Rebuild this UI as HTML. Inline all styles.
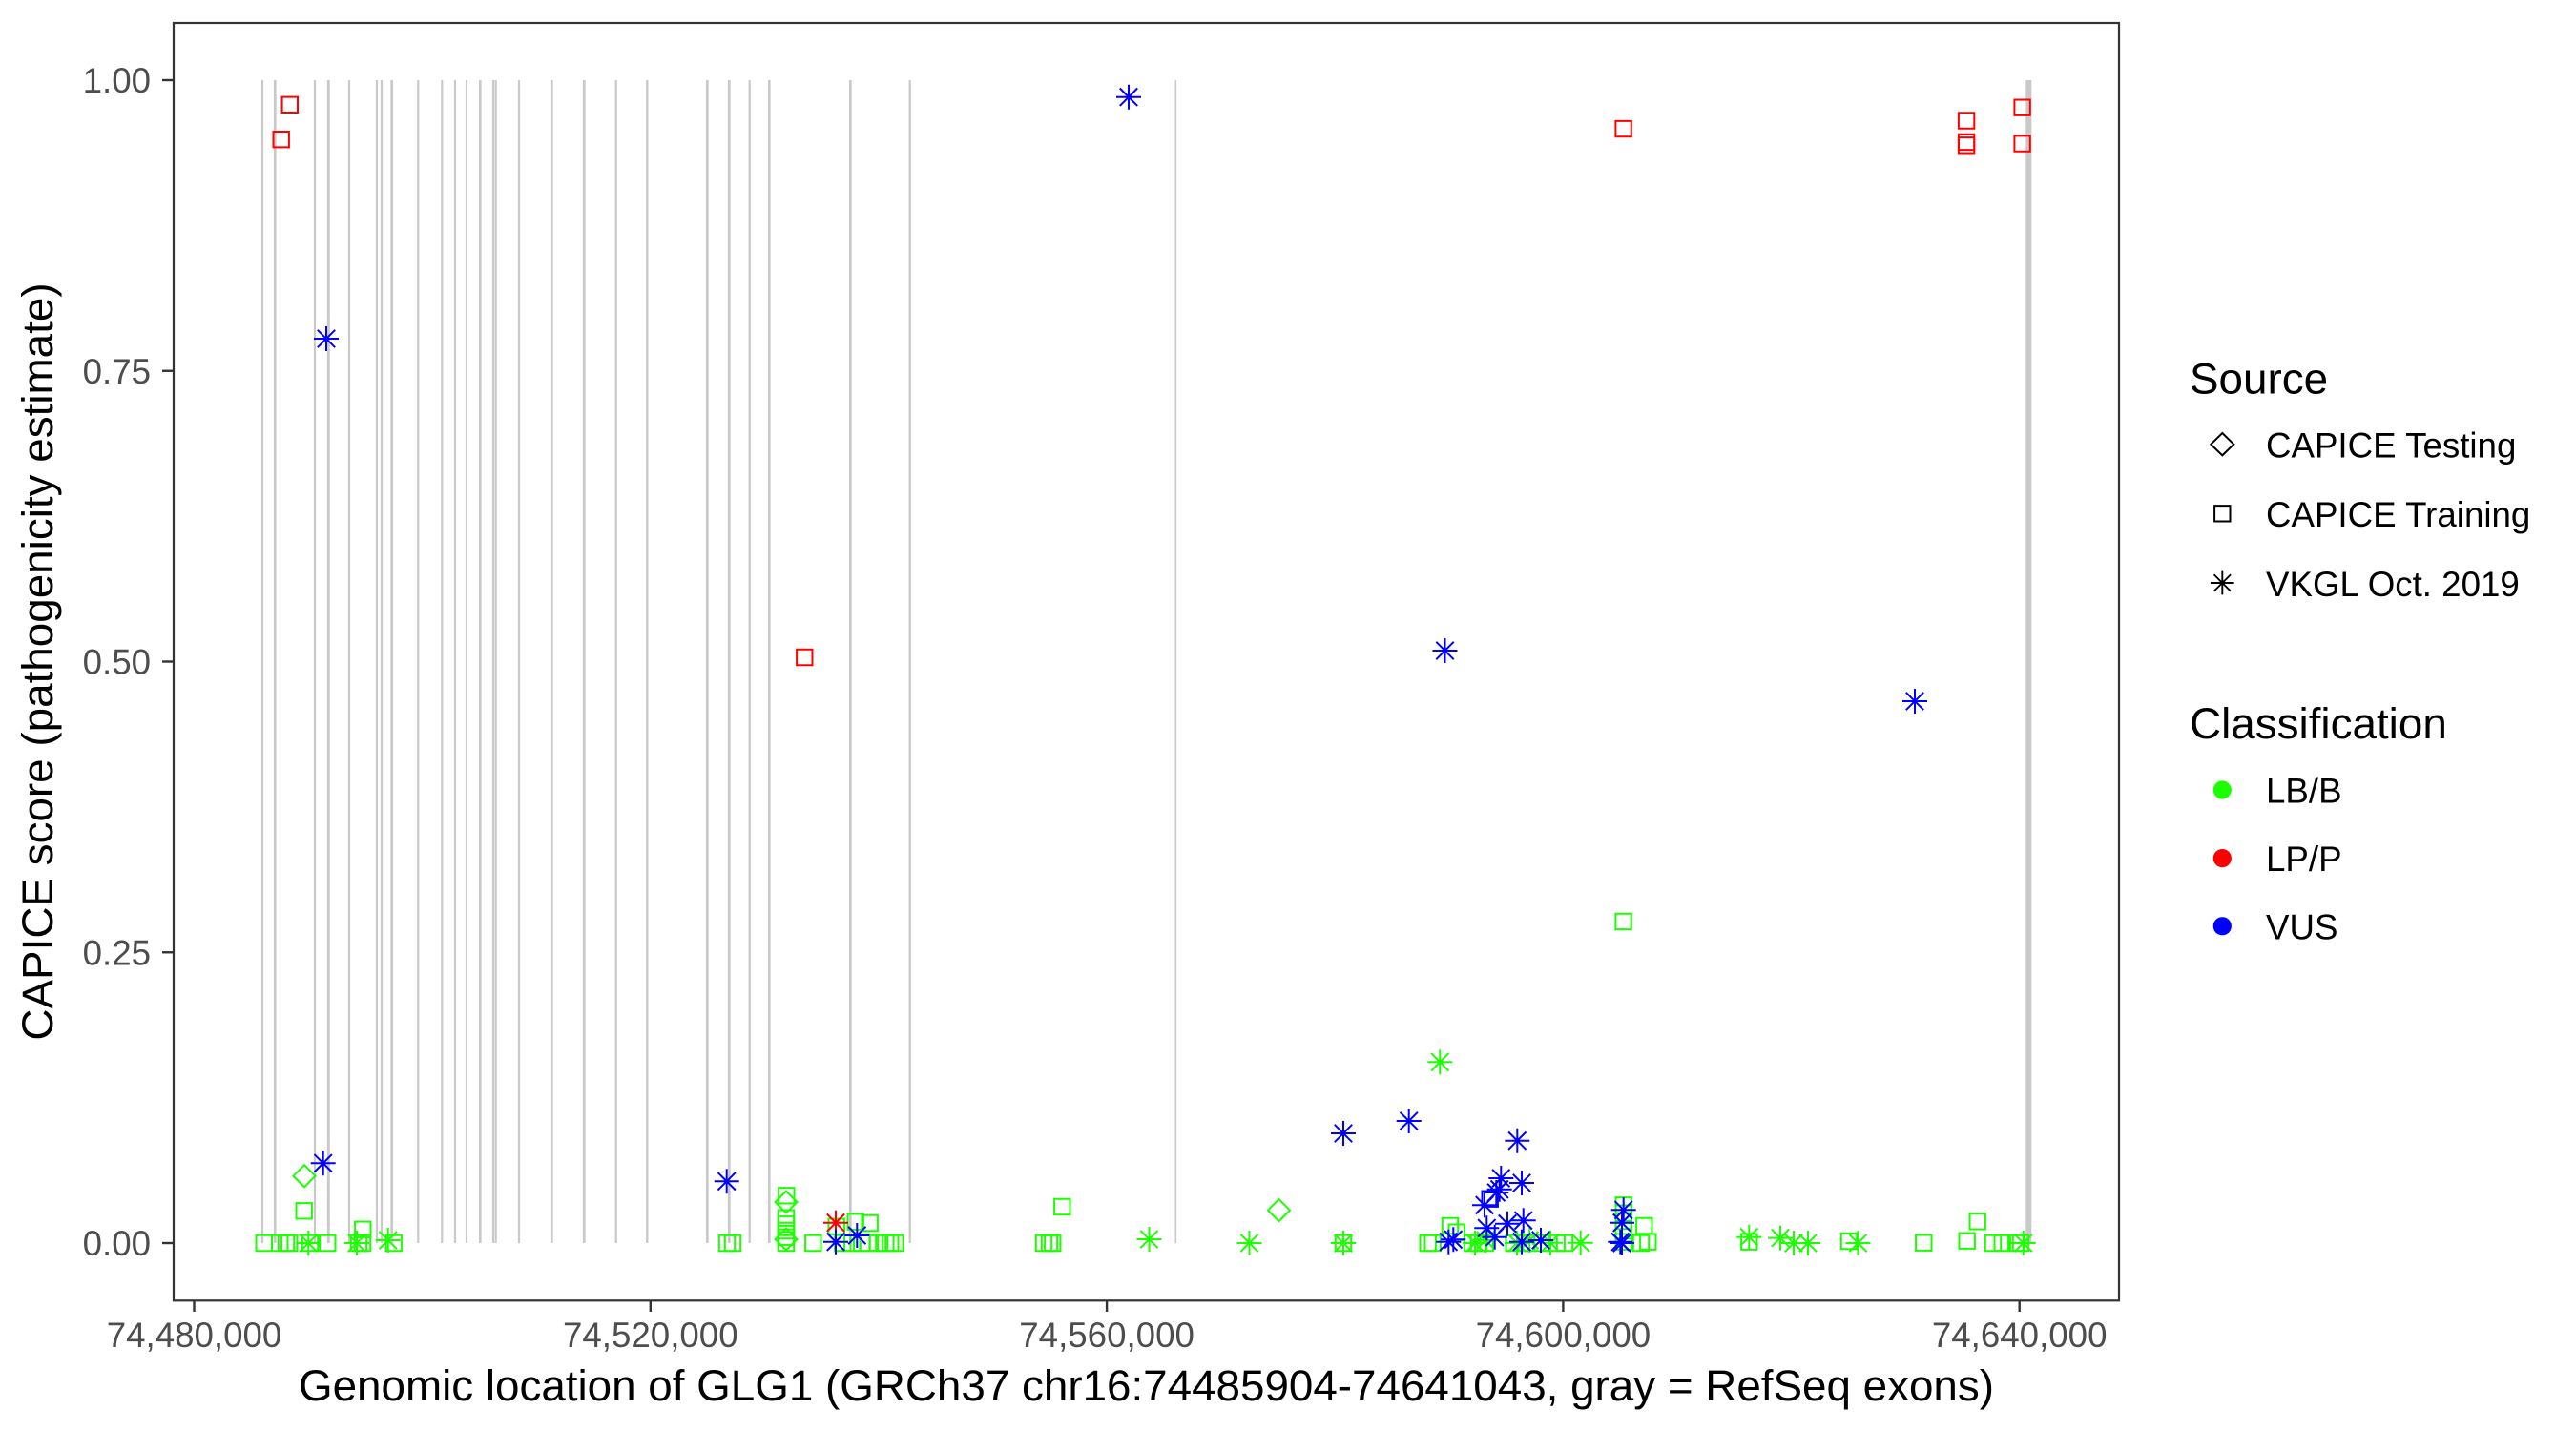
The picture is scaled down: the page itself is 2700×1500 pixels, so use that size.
<!DOCTYPE html>
<html><head><meta charset="utf-8"><style>
html,body{margin:0;padding:0;background:#fff;}
svg{display:block;font-family:"Liberation Sans",Arial,sans-serif;}
</style></head><body>
<svg width="2700" height="1500" viewBox="0 0 2700 1500" xmlns="http://www.w3.org/2000/svg">
<defs>
<path id="sq" d="M-8.2-8.2h16.4v16.4h-16.4z" fill="none"/>
<path id="st" d="M-13 0H13M0-13V13M-9.2-9.2L9.2 9.2M-9.2 9.2L9.2-9.2" fill="none"/>
<path id="dm" d="M0-11.5L11.5 0L0 11.5L-11.5 0Z" fill="none"/>
</defs>
<rect width="2700" height="1500" fill="#fff"/>
<!-- exon lines -->
<g stroke="#c9c9c9" stroke-width="2.2">
<line x1="275" y1="84" x2="275" y2="1303"/>
<line x1="288.3" y1="84" x2="288.3" y2="1303" stroke-width="2.7"/>
<line x1="330" y1="84" x2="330" y2="1303"/>
<line x1="344.3" y1="84" x2="344.3" y2="1303" stroke-width="2.9"/>
<line x1="366" y1="84" x2="366" y2="1303"/>
<line x1="395" y1="84" x2="395" y2="1303"/>
<line x1="400" y1="84" x2="400" y2="1303"/>
<line x1="410.7" y1="84" x2="410.7" y2="1303" stroke-width="2.7"/>
<line x1="438.3" y1="84" x2="438.3" y2="1303"/>
<line x1="463.3" y1="84" x2="463.3" y2="1303"/>
<line x1="477" y1="84" x2="477" y2="1303"/>
<line x1="489" y1="84" x2="489" y2="1303"/>
<line x1="503.3" y1="84" x2="503.3" y2="1303" stroke-width="2.7"/>
<line x1="517" y1="84" x2="517" y2="1303"/>
<line x1="519.7" y1="84" x2="519.7" y2="1303"/>
<line x1="544" y1="84" x2="544" y2="1303"/>
<line x1="578.3" y1="84" x2="578.3" y2="1303" stroke-width="2.7"/>
<line x1="612.3" y1="84" x2="612.3" y2="1303" stroke-width="2.7"/>
<line x1="645.7" y1="84" x2="645.7" y2="1303"/>
<line x1="678.3" y1="84" x2="678.3" y2="1303" stroke-width="2.4"/>
<line x1="741.3" y1="84" x2="741.3" y2="1303" stroke-width="2.7"/>
<line x1="764.3" y1="84" x2="764.3" y2="1303" stroke-width="2.7"/>
<line x1="785.7" y1="84" x2="785.7" y2="1303"/>
<line x1="806.3" y1="84" x2="806.3" y2="1303" stroke-width="2.7"/>
<line x1="891.3" y1="84" x2="891.3" y2="1303" stroke-width="2.7"/>
<line x1="953.7" y1="84" x2="953.7" y2="1303"/>
<line x1="1232.3" y1="84" x2="1232.3" y2="1303" stroke-width="1.6"/>
</g>
<rect x="2123.3" y="84" width="6" height="1219" fill="#c9c9c9"/>

<!-- green points -->
<g stroke="#1cff00" stroke-width="2">
<use href="#sq" x="318.7" y="1269.3"/>
<use href="#sq" x="380.3" y="1288.7"/>
<use href="#sq" x="276.7" y="1303"/>
<use href="#sq" x="293.3" y="1303"/>
<use href="#sq" x="300" y="1303"/>
<use href="#sq" x="303.3" y="1303"/>
<use href="#sq" x="325" y="1303"/>
<use href="#sq" x="343.3" y="1303"/>
<use href="#sq" x="376" y="1303"/>
<use href="#sq" x="380" y="1303"/>
<use href="#sq" x="412.7" y="1303"/>
<use href="#st" x="323.3" y="1303"/>
<use href="#st" x="374" y="1303"/>
<use href="#st" x="406.7" y="1300"/>
<use href="#dm" x="319" y="1232.7"/>

<use href="#sq" x="762" y="1303"/>
<use href="#sq" x="768" y="1303"/>
<use href="#sq" x="824.3" y="1253.3"/>
<use href="#dm" x="824" y="1260"/>
<use href="#sq" x="824" y="1276.7"/>
<use href="#sq" x="824" y="1283.3"/>
<use href="#sq" x="824" y="1290"/>
<use href="#sq" x="824" y="1296.7"/>
<use href="#sq" x="824" y="1303"/>
<use href="#dm" x="824" y="1299"/>
<use href="#sq" x="852.3" y="1303"/>
<use href="#sq" x="876.7" y="1285.7"/>
<use href="#sq" x="896.7" y="1280.7"/>
<use href="#sq" x="911.7" y="1282"/>
<use href="#sq" x="883.3" y="1303"/>
<use href="#sq" x="893.3" y="1303"/>
<use href="#sq" x="903.3" y="1303"/>
<use href="#sq" x="910" y="1303"/>
<use href="#sq" x="920" y="1303"/>
<use href="#sq" x="928.3" y="1303"/>
<use href="#sq" x="933.3" y="1303"/>
<use href="#sq" x="938.3" y="1303"/>
<use href="#sq" x="1094" y="1303"/>
<use href="#sq" x="1100" y="1303"/>
<use href="#sq" x="1103.3" y="1303"/>
<use href="#sq" x="1113.3" y="1265"/>
<use href="#st" x="1204.5" y="1299"/>
<use href="#st" x="1309.5" y="1303"/>
<use href="#dm" x="1340.5" y="1268.6"/>
<use href="#sq" x="1408" y="1303"/>
<use href="#st" x="1408" y="1303"/>

<use href="#st" x="1509.3" y="1113.3"/>
<use href="#sq" x="1496.7" y="1303"/>
<use href="#sq" x="1501.7" y="1303"/>
<use href="#sq" x="1520" y="1285"/>
<use href="#sq" x="1526.7" y="1291.7"/>
<use href="#sq" x="1543.3" y="1303"/>
<use href="#sq" x="1550" y="1303"/>
<use href="#sq" x="1556.7" y="1303"/>
<use href="#sq" x="1586.7" y="1303"/>
<use href="#sq" x="1600" y="1303"/>
<use href="#sq" x="1616.7" y="1303"/>
<use href="#sq" x="1631.7" y="1303"/>
<use href="#sq" x="1640" y="1303"/>
<use href="#st" x="1546" y="1303"/>
<use href="#st" x="1557" y="1300"/>
<use href="#st" x="1590" y="1303"/>
<use href="#st" x="1603.3" y="1300"/>
<use href="#st" x="1625" y="1302.7"/>
<use href="#st" x="1656.7" y="1302.7"/>
<use href="#sq" x="1701.6" y="965.9"/>
<use href="#sq" x="1701.7" y="1263.3"/>
<use href="#sq" x="1701.7" y="1271.7"/>
<use href="#sq" x="1701.7" y="1280"/>
<use href="#sq" x="1701.7" y="1290"/>
<use href="#sq" x="1701.7" y="1301.7"/>
<use href="#sq" x="1723.3" y="1285"/>
<use href="#sq" x="1720" y="1303"/>
<use href="#sq" x="1727.3" y="1301.7"/>
<use href="#sq" x="1833.3" y="1301.7"/>
<use href="#st" x="1833.3" y="1296.7"/>
<use href="#st" x="1866" y="1297.6"/>
<use href="#st" x="1880" y="1303"/>
<use href="#st" x="1895" y="1303"/>
<use href="#sq" x="1938" y="1301"/>
<use href="#st" x="1947.5" y="1303"/>
<use href="#sq" x="2016.3" y="1302.7"/>
<use href="#sq" x="2061.7" y="1300.7"/>
<use href="#sq" x="2072.7" y="1280.3"/>
<use href="#sq" x="2089" y="1303"/>
<use href="#sq" x="2098.7" y="1303"/>
<use href="#sq" x="2113.3" y="1303"/>
<use href="#sq" x="2118" y="1303"/>
<use href="#st" x="2120.7" y="1303"/>
</g>

<!-- red points -->
<g stroke="#ff0000" stroke-width="2">
<use href="#sq" x="303.8" y="109.8"/>
<use href="#sq" x="294.7" y="146.2"/>
<use href="#sq" x="1701.6" y="135.1"/>
<use href="#sq" x="2061.1" y="126.5"/>
<use href="#sq" x="2061.1" y="148.9"/>
<use href="#sq" x="2061.1" y="152.3"/>
<use href="#sq" x="2119.6" y="112.7"/>
<use href="#sq" x="2119.6" y="150.6"/>
<use href="#sq" x="843.3" y="689"/>
<use href="#st" x="876" y="1281.7"/>
</g>

<!-- blue points -->
<g stroke="#0000ff" stroke-width="2">
<use href="#st" x="1183" y="101.7"/>
<use href="#st" x="342" y="355"/>
<use href="#st" x="1514.5" y="682"/>
<use href="#st" x="2007" y="735"/>
<use href="#st" x="1408" y="1188"/>
<use href="#st" x="1476.7" y="1175"/>
<use href="#st" x="1590.3" y="1195.7"/>
<use href="#st" x="761.7" y="1238.3"/>
<use href="#st" x="338.7" y="1219.3"/>
<use href="#st" x="876" y="1301.7"/>
<use href="#st" x="898.3" y="1295"/>
<use href="#st" x="1573.3" y="1235"/>
<use href="#st" x="1595" y="1240"/>
<use href="#st" x="1571.7" y="1246.7"/>
<use href="#st" x="1568.3" y="1250"/>
<use href="#sq" x="1561.7" y="1256.7"/>
<use href="#st" x="1556" y="1263.3"/>
<use href="#st" x="1596.7" y="1279.3"/>
<use href="#st" x="1580" y="1282.7"/>
<use href="#st" x="1558.3" y="1287.3"/>
<use href="#st" x="1566.7" y="1296.7"/>
<use href="#st" x="1523.3" y="1299.3"/>
<use href="#st" x="1518.3" y="1301.7"/>
<use href="#st" x="1595" y="1301.7"/>
<use href="#st" x="1615" y="1300"/>
<use href="#st" x="1701.7" y="1268.3"/>
<use href="#st" x="1700" y="1281.7"/>
<use href="#st" x="1698.3" y="1301.7"/>
<use href="#st" x="1700" y="1303"/>
</g>

<!-- panel border -->
<rect x="182" y="24" width="2039" height="1339.3" fill="none" stroke="#333333" stroke-width="2.2"/>

<!-- y ticks -->
<g stroke="#333333" stroke-width="2.4">
<line x1="170" y1="84" x2="182" y2="84"/>
<line x1="170" y1="388.75" x2="182" y2="388.75"/>
<line x1="170" y1="693.5" x2="182" y2="693.5"/>
<line x1="170" y1="998.25" x2="182" y2="998.25"/>
<line x1="170" y1="1303" x2="182" y2="1303"/>
</g>
<g font-size="36.7" fill="#4d4d4d" text-anchor="end">
<text x="158" y="97">1.00</text>
<text x="158" y="401.8">0.75</text>
<text x="158" y="706.5">0.50</text>
<text x="158" y="1011.3">0.25</text>
<text x="158" y="1316">0.00</text>
</g>
<!-- x ticks -->
<g stroke="#333333" stroke-width="2.4">
<line x1="203.5" y1="1363" x2="203.5" y2="1375"/>
<line x1="681.8" y1="1363" x2="681.8" y2="1375"/>
<line x1="1160.1" y1="1363" x2="1160.1" y2="1375"/>
<line x1="1638.4" y1="1363" x2="1638.4" y2="1375"/>
<line x1="2116.7" y1="1363" x2="2116.7" y2="1375"/>
</g>
<g font-size="36.7" fill="#4d4d4d" text-anchor="middle">
<text x="203.5" y="1412">74,480,000</text>
<text x="681.8" y="1412">74,520,000</text>
<text x="1160.1" y="1412">74,560,000</text>
<text x="1638.4" y="1412">74,600,000</text>
<text x="2116.7" y="1412">74,640,000</text>
</g>

<!-- axis titles -->
<text x="1201.5" y="1468" font-size="45.8" fill="#000" text-anchor="middle" textLength="1777" lengthAdjust="spacingAndGlyphs">Genomic location of GLG1 (GRCh37 chr16:74485904-74641043, gray = RefSeq exons)</text>
<text transform="translate(55,693.5) rotate(-90)" font-size="45.8" fill="#000" text-anchor="middle">CAPICE score (pathogenicity estimate)</text>

<!-- legend -->
<text x="2295" y="412.5" font-size="45.8" fill="#000">Source</text>
<g stroke="#000" stroke-width="2">
<path d="M2329.3 454L2341.3 465.7L2329.3 477.4L2317.3 465.7Z" fill="none"/>
<use href="#sq" x="2329.3" y="538.3"/>
<use href="#st" x="2329.3" y="611" transform="translate(2329.3 611) scale(0.95) translate(-2329.3 -611)"/>
</g>
<g font-size="36.7" fill="#000">
<text x="2375" y="479.3">CAPICE Testing</text>
<text x="2375" y="552">CAPICE Training</text>
<text x="2375" y="624.8">VKGL Oct. 2019</text>
</g>
<text x="2295" y="774" font-size="45.8" fill="#000">Classification</text>
<circle cx="2329.3" cy="828" r="9.6" fill="#1cff00"/>
<circle cx="2329.3" cy="899.6" r="9.6" fill="#ff0000"/>
<circle cx="2329.3" cy="970.8" r="9.6" fill="#0000ff"/>
<g font-size="36.7" fill="#000">
<text x="2375" y="841.3">LB/B</text>
<text x="2375" y="913">LP/P</text>
<text x="2375" y="984.3">VUS</text>
</g>
</svg>
</body></html>
